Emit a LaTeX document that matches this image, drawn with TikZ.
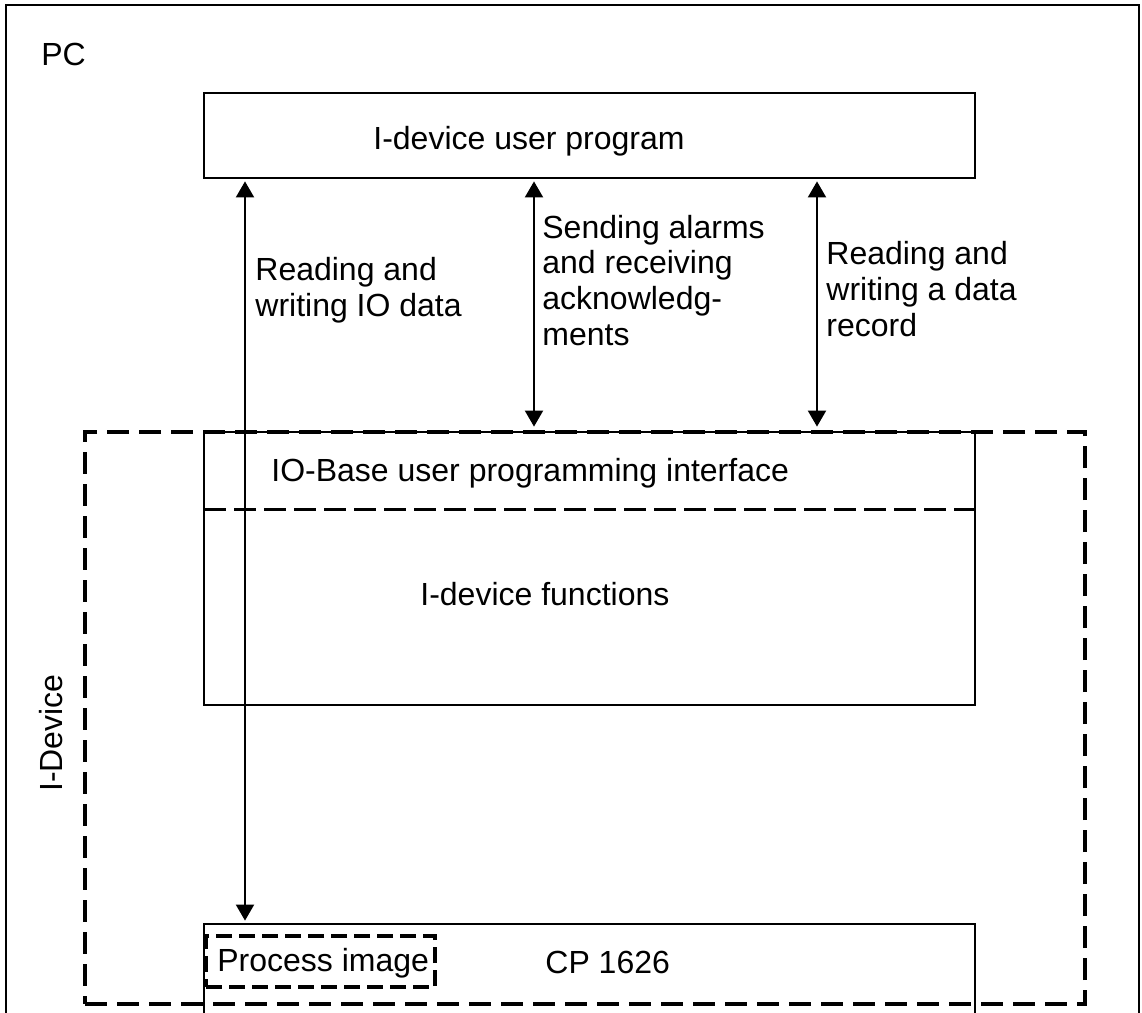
\documentclass[tikz,border=0pt]{standalone}
\usepackage{fontspec}
\setmainfont{Liberation Sans}
\usetikzlibrary{arrows.meta,fit}
\begin{document}
\begin{tikzpicture}[x=0.5pt,y=-0.5pt,
  solidbox/.style={draw,line width=1.4pt,inner sep=0pt},
  bigdash/.style={draw,line width=2pt,dash pattern=on 11pt off 5pt,inner sep=0pt},
  sepdash/.style={line width=1.5pt,dash pattern=on 11pt off 4pt},
  smalldash/.style={draw,line width=1.8pt,dash pattern=on 8pt off 3.5pt,inner sep=0pt},
  txt/.style={font=\fontsize{16}{17.8}\selectfont,inner sep=0pt,anchor=base west,align=left},
  dbl/.style={line width=1pt,{Triangle[width=9pt,length=8pt]}-{Triangle[width=9pt,length=8pt]},shorten <=1pt,shorten >=1pt}]
\useasboundingbox (0,0) rectangle (1142,1013);
\clip (0,0) rectangle (1142,1013);
% boxes
\node[solidbox,fit={(6,5)(1139,1040)}] (pc) {};
\node[bigdash,fit={(85,432)(1085,1004)}] (idev) {};
\node[solidbox,fit={(204,93)(975,178)}] (prog) {};
\node[solidbox,fit={(204,432)(975,705)}] (ifun) {};
\node[solidbox,fit={(204,924)(975,1060)}] (cp) {};
\node[smalldash,fit={(206,936)(435,987)}] (pimg) {};
\coordinate (sepl) at (204,509);
\coordinate (sepr) at (975,509);
\draw[sepdash] (sepl) -- (sepr);
% texts (multi-line nodes are anchored at the baseline of their last line)
\node[txt] (tpc) at (41,65) {PC};
\node[txt] (tprog) at (373,149) {I-device user program};
\node[txt] (tl1) at (255,316) {Reading and\\writing IO data};
\node[txt] (tl2) at (542,345) {Sending alarms\\and receiving\\acknowledg-\\ments};
\node[txt] (tl3) at (826,336) {Reading and\\writing a data\\record};
\node[txt] (tio) at (271,481) {IO-Base user programming interface};
\node[txt] (tfun) at (420,605) {I-device functions};
\node[txt] (tpimg) at (217,971) {Process image};
\node[txt] (tcp) at (545,973) {CP 1626};
\node[txt,anchor=base,rotate=90] (tidev) at (62,733) {I-Device};
% arrows
\coordinate (x1) at (245,0);
\coordinate (x2) at (534,0);
\coordinate (x3) at (817,0);
\draw[dbl] (prog.south -| x1) -- (cp.north -| x1);
\draw[dbl,shorten >=2pt] (prog.south -| x2) -- (ifun.north -| x2);
\draw[dbl,shorten >=2pt] (prog.south -| x3) -- (ifun.north -| x3);
\end{tikzpicture}
\end{document}
